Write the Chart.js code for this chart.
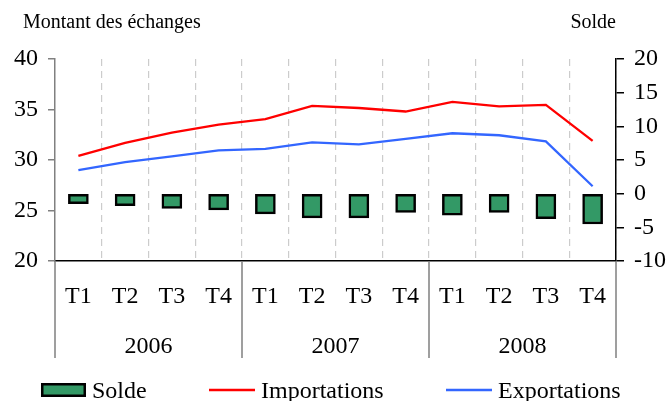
<!DOCTYPE html>
<html>
<head>
<meta charset="utf-8">
<script src="https://cdn.jsdelivr.net/npm/chart.js@4/dist/chart.umd.min.js"></script>
<style>
  html, body { margin: 0; padding: 0; background: #fff; }
  #wrap { width: 669px; height: 401px; position: relative; }
</style>
</head>
<body>
<div id="wrap"><canvas id="c" width="669" height="401"></canvas></div>
<script>
const quarters = ['T1','T2','T3','T4','T1','T2','T3','T4','T1','T2','T3','T4'];
const years = ['2006','2007','2008'];
const importations = [30.4, 31.7, 32.7, 33.5, 34.05, 35.35, 35.15, 34.8, 35.75, 35.3, 35.45, 31.9];
const exportations = [29.0, 29.8, 30.35, 30.95, 31.1, 31.75, 31.55, 32.1, 32.65, 32.45, 31.85, 27.4];
const solde = [-1.5, -1.8, -2.2, -2.4, -3.0, -3.6, -3.6, -2.8, -3.2, -2.8, -3.7, -4.5];
const leftTitle = 'Montant des échanges';
const rightTitle = 'Solde';

const FONT = '"Liberation Serif", "Times New Roman", serif';

const extras = {
  id: 'extras',
  afterDraw(chart) {
    const ctx = chart.ctx;
    const x = chart.scales.x;
    const area = chart.chartArea;
    ctx.save();
    // axis titles
    ctx.fillStyle = '#000';
    ctx.font = '20px ' + FONT;
    ctx.textBaseline = 'alphabetic';
    ctx.textAlign = 'left';
    ctx.fillText(leftTitle, 23, 28);
    ctx.textAlign = 'right';
    ctx.fillText(rightTitle, area.right, 28);

    // group separators and year labels
    const per = quarters.length / years.length;
    const step = (x.getPixelForValue(1) - x.getPixelForValue(0));
    ctx.strokeStyle = '#7f7f7f';
    ctx.lineWidth = 1.5;
    for (let g = 0; g <= years.length; g++) {
      const idx = g * per;
      const px = Math.round(x.getPixelForValue(0) - step / 2 + idx * step);
      ctx.beginPath();
      ctx.moveTo(px, area.bottom);
      ctx.lineTo(px, 358);
      ctx.stroke();
    }
    ctx.font = '24px ' + FONT;
    ctx.textAlign = 'center';
    ctx.textBaseline = 'middle';
    years.forEach((y, g) => {
      const a = x.getPixelForValue(g * per);
      const b = x.getPixelForValue(g * per + per - 1);
      ctx.fillText(y, (a + b) / 2, 347);
    });

    // legend
    const ds = chart.data.datasets;
    ctx.font = '24px ' + FONT;
    ctx.textAlign = 'left';
    ctx.textBaseline = 'alphabetic';
    const items = [
      {sx: 41, tx: 92},
      {sx: 209, tx: 261},
      {sx: 446, tx: 498}
    ];
    ds.forEach((d, i) => {
      const it = items[i];
      if (d.type === 'bar') {
        ctx.fillStyle = d.backgroundColor;
        ctx.fillRect(it.sx, 383, 45, 14);
        ctx.strokeStyle = d.borderColor;
        ctx.lineWidth = 2.5;
        ctx.strokeRect(it.sx + 1.25, 384.25, 42.5, 11.5);
      } else {
        ctx.strokeStyle = d.borderColor;
        ctx.lineWidth = 2.5;
        ctx.beginPath();
        ctx.moveTo(it.sx, 390);
        ctx.lineTo(it.sx + 46, 390);
        ctx.stroke();
      }
      ctx.fillStyle = '#000';
      ctx.fillText(d.label, it.tx, 398);
    });
    ctx.restore();
  }
};

new Chart(document.getElementById('c'), {
  data: {
    labels: quarters,
    datasets: [
      {
        type: 'bar', label: 'Solde', data: solde, yAxisID: 'y1',
        backgroundColor: '#339966', borderColor: '#000000', borderWidth: 2.5,
        borderSkipped: false, barThickness: 20, order: 2
      },
      {
        type: 'line', label: 'Importations', data: importations, yAxisID: 'y',
        borderColor: '#ff0000', backgroundColor: '#ff0000', borderWidth: 2.3,
        pointRadius: 0, tension: 0, order: 1
      },
      {
        type: 'line', label: 'Exportations', data: exportations, yAxisID: 'y',
        borderColor: '#3366ff', backgroundColor: '#3366ff', borderWidth: 2.3,
        pointRadius: 0, tension: 0, order: 1
      }
    ]
  },
  options: {
    responsive: false,
    animation: false,
    devicePixelRatio: 1,
    layout: { padding: { top: 59, left: 0, right: 0, bottom: 0 } },
    plugins: { legend: { display: false }, tooltip: { enabled: false } },
    scales: {
      x: {
        type: 'category', offset: true,
        grid: {
          offset: true, drawTicks: false, lineWidth: 1.2,
          color: (c) => (c.index === 0 || c.index === quarters.length) ? 'rgba(0,0,0,0)' : '#cccccc'
        },
        border: { display: true, color: '#000', width: 1.5, dash: [7, 5] },
        ticks: { color: '#000', font: { family: FONT, size: 24 }, padding: 21, maxRotation: 0, autoSkip: false },
        afterFit: (s) => { s.height = 140; }
      },
      y: {
        position: 'left', min: 20, max: 40,
        ticks: { stepSize: 5, color: '#000', font: { family: FONT, size: 24 }, padding: 10 },
        grid: { drawOnChartArea: false, drawTicks: true, tickLength: 7, color: '#808080', lineWidth: 1.5 },
        border: { display: true, color: '#808080', width: 1.5 },
        afterFit: (s) => { s.width = 55; }
      },
      y1: {
        position: 'right', min: -10, max: 20,
        ticks: { stepSize: 5, color: '#000', font: { family: FONT, size: 24 }, padding: 10 },
        grid: { drawOnChartArea: false, drawTicks: true, tickLength: 8, color: '#000', lineWidth: 1.5 },
        border: { display: true, color: '#000', width: 1.5 },
        afterFit: (s) => { s.width = 53; }
      }
    }
  },
  plugins: [extras]
});
</script>
</body>
</html>
